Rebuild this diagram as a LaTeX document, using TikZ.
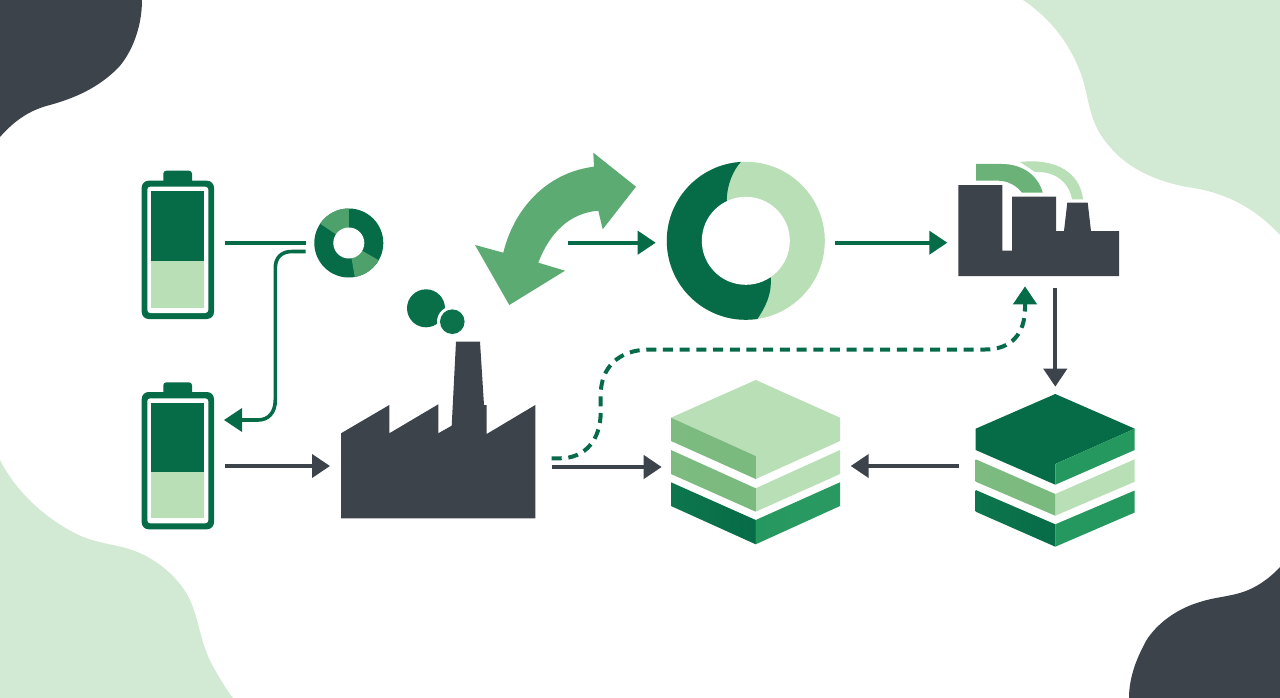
\documentclass[tikz,border=0pt]{standalone}
\usetikzlibrary{arrows.meta,calc}
\definecolor{slate}{HTML}{3C434B}
\definecolor{deepgreen}{HTML}{066B47}
\definecolor{midgreen}{HTML}{259860}
\definecolor{leafgreen}{HTML}{5CAB73}
\definecolor{softgreen}{HTML}{7DBB80}
\definecolor{palegreen}{HTML}{B8DFB5}
\definecolor{washgreen}{HTML}{D2EAD3}
\tikzset{
  darkline/.style={draw=slate,line width=4pt,-{Triangle[length=18pt,width=23pt]}},
  greenline/.style={draw=deepgreen,line width=4pt,-{Triangle[length=18pt,width=23pt]}},
  dashline/.style={draw=deepgreen,line width=4pt,dash pattern=on 10pt off 6.7pt,-{Triangle[length=18pt,width=23pt,sep=3pt]}},
}
% One battery: x is fixed, #1 cap top, #2 body top, #3 inner top, #4 fill top, #5 split, #6 fill bottom, #7 inner bottom, #8 body bottom
\newcommand{\batteryicon}[8]{
  \fill[deepgreen,rounded corners=3pt] (163.3,#1) rectangle (192,#2+6);
  \fill[deepgreen,rounded corners=7pt] (141.7,#2) rectangle (214,#8);
  \fill[white,rounded corners=3pt] (147.3,#3) rectangle (208.3,#7);
  \fill[deepgreen] (151.3,#4) rectangle (204,#5);
  \fill[palegreen] (151.3,#5) rectangle (204,#6);
}
% Left face of one stack layer: #1 left x, #2 mid x, #3 outer top y, #4 mid top y, #5 mid bottom y, #6 outer bottom y, #7 shading colours
\newcommand{\slab}[7]{
  \shade[#7] (#1,#3) -- (#2,#4) -- (#2,#5) -- (#1,#6) -- cycle;
}
\begin{document}
\begin{tikzpicture}[x=1pt,y=-1pt]
\useasboundingbox (0,0) rectangle (1280,698);
\fill[white] (0,0) rectangle (1280,698);

% corner blobs
\fill[slate] (0,0) -- (142,0) .. controls (142,30) and (130,55) .. (118,68) .. controls (98,88) and (75,98) .. (50,105) .. controls (30,110) and (15,120) .. (0,137) -- cycle;
\fill[washgreen] (1280,0) -- (1023,0) .. controls (1050,18) and (1072,45) .. (1083,80) .. controls (1090,105) and (1090,125) .. (1110,147) .. controls (1125,165) and (1150,180) .. (1187,187) .. controls (1225,192) and (1255,208) .. (1280,235) -- cycle;
\fill[washgreen] (0,698) -- (0,460) .. controls (15,490) and (45,520) .. (83,537) .. controls (100,543) and (105,543) .. (117,546) .. controls (150,552) and (178,575) .. (190,600) .. controls (200,622) and (200,645) .. (215,670) .. controls (222,682) and (228,692) .. (233,698) -- cycle;
\fill[slate] (1280,698) -- (1280,567) .. controls (1268,580) and (1255,588) .. (1243,592) .. controls (1228,597) and (1215,597) .. (1200,602) .. controls (1172,610) and (1150,630) .. (1143,647) .. controls (1135,662) and (1129,680) .. (1129,698) -- cycle;

% batteries
\batteryicon{170.7}{180.7}{186.7}{191.3}{260.7}{308}{313}{319}
\batteryicon{382.3}{392}{398.3}{403.3}{471.7}{518.3}{523.3}{529.3}

% small segmented ring
\coordinate (ringS) at (348.8,243);
\fill[deepgreen] (ringS) circle (34.5);
\begin{scope}
  \clip (ringS) circle (34.5);
  \fill[leafgreen!85!deepgreen] (ringS) -- ++(-90:60) -- ($(ringS)+(-118:60)$) -- ($(ringS)+(-146:60)$) -- cycle;
  \fill[leafgreen!85!deepgreen] (ringS) -- ++(30:60) -- ($(ringS)+(55:60)$) -- ($(ringS)+(80:60)$) -- cycle;
\end{scope}
\fill[white] (ringS) circle (15.5);

% double-headed curved arrow
\fill[leafgreen] (636,186.7) -- (593.3,152.7) -- (594,166.7)
  .. controls (550,172) and (515,205) .. (503.3,252.7)
  -- (475,245) -- (509.3,305) -- (565,270.7) -- (538.3,262.7)
  .. controls (550,232) and (570,213) .. (598.3,210.7)
  -- (602.7,229.3) -- cycle;

% large two-tone ring
\coordinate (ringB) at (745.8,240.8);
\fill[palegreen] (ringB) circle (79);
\begin{scope}
  \clip (ringB) circle (79);
  \fill[deepgreen] (741.7,161) .. controls (733,170) and (727,185) .. (726.7,200)
    -- (770.7,277.3) .. controls (772,295) and (765,308) .. (756,321)
    -- (650,330) -- (650,150) -- cycle;
\end{scope}
\fill[white] (ringB) circle (44);

% upper factory with its two plumes
\fill[palegreen] (1020,162) .. controls (1055,158) and (1080,172) .. (1083,199.3) -- (1072,199.3)
  .. controls (1069,182) and (1055,171) .. (1035,172) -- cycle;
\fill[leafgreen!55!softgreen] (976,164) -- (1001.7,164) .. controls (1022,164) and (1038,175) .. (1042.7,192.7)
  -- (1022,192.7) .. controls (1017,186) and (1008,180.7) .. (998.3,180.7) -- (976,180.7) -- cycle;
\fill[slate] (958.3,185) -- (1002.3,185) -- (1002.3,250.7) -- (1012,250.7) -- (1012,196.7) -- (1056,196.7)
  -- (1056,231) -- (1064,231) -- (1067.3,202.7) -- (1087.7,202.7) -- (1091,231) -- (1119,231)
  -- (1119,276) -- (958.3,276) -- cycle;

% lower factory with smoke
\fill[slate] (341,433.3) -- (389.3,405) -- (389.3,433.3) -- (438.3,404.3) -- (438.3,433.3) -- (451.7,425.7)
  -- (456,341.7) -- (480,341.7) -- (484,405) -- (486.7,405) -- (486.7,434) -- (535.3,405)
  -- (535.3,518.3) -- (341,518.3) -- cycle;
\fill[deepgreen!90!midgreen] (426,308.3) circle (19);
\fill[white] (452.3,321.7) circle (15.3);
\fill[deepgreen!85!midgreen] (452.3,321.7) circle (12.3);

% left stack
\fill[palegreen] (755.7,380) -- (840,417.7) -- (840,441) -- (755.7,479) -- (755.7,456) -- (671,417.7) -- cycle;
\slab{671}{755.7}{417.7}{456}{479}{441}{left color=softgreen,right color=softgreen!92!leafgreen}
\fill[palegreen] (755.7,488.3) -- (840,450) -- (840,474) -- (755.7,511.7) -- cycle;
\slab{671}{755.7}{450}{488.3}{511.7}{474}{left color=softgreen,right color=softgreen!92!leafgreen}
\shade[left color=midgreen,right color=midgreen!92!leafgreen] (755.7,520) -- (840,482.3) -- (840,506) -- (755.7,544.3) -- cycle;
\slab{671}{755.7}{482.3}{520}{544.3}{506}{left color=deepgreen!75!midgreen,right color=deepgreen}

% right stack
\fill[deepgreen] (1055.3,394) -- (1134.7,428.7) -- (1055.3,464) -- (1055.3,484.7) -- (975.7,450) -- (975.7,428.7) -- cycle;
\fill[midgreen] (1134.7,428.7) -- (1134.7,450) -- (1055.3,484.7) -- (1055.3,464) -- cycle;
\fill[palegreen] (1055.3,494) -- (1134.7,459.3) -- (1134.7,481.7) -- (1055.3,515.7) -- cycle;
\slab{975.7}{1055.3}{459.3}{494}{515.7}{481.7}{left color=softgreen,right color=softgreen!92!leafgreen}
\fill[midgreen] (1055.3,524.3) -- (1134.7,490.5) -- (1134.7,512.5) -- (1055.3,546.7) -- cycle;
\slab{975.7}{1055.3}{490}{524.3}{546.7}{511.7}{left color=deepgreen!75!midgreen,right color=deepgreen}

% connector end points
\coordinate (batTopOut) at (225.3,242.7);
\coordinate (ringIn) at (305.7,242.7);
\coordinate (ringOut) at (305.7,251.5);
\coordinate (batLowIn) at (224,420);
\coordinate (batLowOut) at (225.3,466);
\coordinate (factLowIn) at (330,466);
\coordinate (loopOut) at (568,242.7);
\coordinate (ringBIn) at (655.7,242.7);
\coordinate (ringBOut) at (835,242.7);
\coordinate (factUpIn) at (947.3,242.7);
\coordinate (factUpOut) at (1055.3,288.3);
\coordinate (stackRIn) at (1055.3,386.7);
\coordinate (stackROut) at (959,466);
\coordinate (stackLRight) at (850.7,466);
\coordinate (factLowOut) at (551.7,467);
\coordinate (stackLLeft) at (661.7,467);
\coordinate (dashStart) at (551.7,458.3);
\coordinate (dashEnd) at (1025,283.3);

% connectors
\draw[draw=deepgreen,line width=4pt] (batTopOut) -- (ringIn);
\draw[greenline,line width=3.6pt] (ringOut) -- (292,251.5) .. controls (281,251.5) and (275.3,258) .. (275.3,268)
  -- (275.3,400) .. controls (275.3,413) and (268,420) .. (258,420) -- (batLowIn);
\draw[darkline] (batLowOut) -- (factLowIn);
\draw[greenline] (loopOut) -- (ringBIn);
\draw[greenline] (ringBOut) -- (factUpIn);
\draw[darkline] (factUpOut) -- (stackRIn);
\draw[darkline] (stackROut) -- (stackLRight);
\draw[darkline] (factLowOut) -- (stackLLeft);
\draw[dashline] (dashStart) -- (560,458.3) .. controls (585,458.3) and (600.7,440) .. (600.7,412)
  -- (600.7,395) .. controls (600.7,368) and (618,349.5) .. (650,349.5)
  -- (985,349.5) .. controls (1012,349.5) and (1025,333) .. (1025,308) -- (dashEnd);
\end{tikzpicture}
\end{document}
